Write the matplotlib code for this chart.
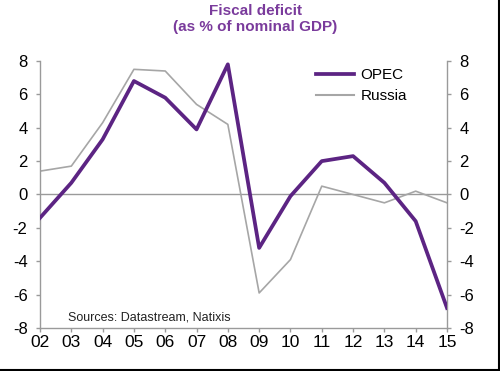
import matplotlib.pyplot as plt
from matplotlib.lines import Line2D

plt.rcParams["font.family"] = ["Liberation Sans", "DejaVu Sans"]

years = ["02", "03", "04", "05", "06", "07", "08", "09", "10", "11", "12", "13", "14", "15"]
opec = [-1.4, 0.7, 3.3, 6.8, 5.8, 3.9, 7.8, -3.2, -0.1, 2.0, 2.3, 0.7, -1.6, -6.8]
russia = [1.4, 1.7, 4.3, 7.5, 7.4, 5.4, 4.2, -5.9, -3.9, 0.5, 0.0, -0.5, 0.2, -0.5]
yticks = [-8, -6, -4, -2, 0, 2, 4, 6, 8]

purple = "#5c2483"
grey = "#a6a6a6"
spine = "#9a9a9a"

fig = plt.figure(figsize=(5, 3.71), dpi=100)
ax = fig.add_axes([0.08, 0.1159, 0.814, 0.7197])
x = list(range(len(years)))

ax.axhline(0, color=spine, lw=1.0, zorder=1)
ax.plot(x, russia, color=grey, lw=1.2, label="Russia", zorder=2)
ax.plot(x, opec, color=purple, lw=2.7, label="OPEC", zorder=3)

ax.set_xlim(0, len(years) - 1)
ax.set_ylim(-8, 8)
ax.set_xticks(x)
ax.set_xticklabels(years)
ax.set_yticks(yticks)
ax.set_yticklabels([str(v) for v in yticks])

ax.spines["top"].set_visible(False)
for side in ["left", "right", "bottom"]:
    ax.spines[side].set_color(spine)
    ax.spines[side].set_linewidth(1.0)
ax.tick_params(axis="both", colors=spine, labelcolor="black",
               length=3, width=1.0, direction="out")
ax.tick_params(axis="x", pad=2, labelsize=12.5)
ax.tick_params(axis="y", pad=6, labelsize=12, left=True, right=True,
               labelleft=True, labelright=True)

handles = [Line2D([], [], color=purple, lw=2.7), Line2D([], [], color=grey, lw=1.5)]
ax.legend(handles, ["OPEC", "Russia"], loc="upper left", bbox_to_anchor=(0.645, 1.025),
          frameon=False, fontsize=11, handlelength=2.45, handletextpad=0.45,
          labelspacing=0.45)

ax.text(0.07, 0.015, "Sources: Datastream, Natixis", transform=ax.transAxes,
        fontsize=9, color="#222222", va="bottom")

fig.text(0.511, 0.988, "Fiscal deficit\n(as % of nominal GDP)", ha="center", va="top",
         fontsize=11, fontweight="bold", color="#7a3b9c", linespacing=1.15)

# dark border along the bottom and right edges
fig.add_artist(Line2D([0, 1], [0.004, 0.004], transform=fig.transFigure, color="black", lw=1.5))
fig.add_artist(Line2D([0.997, 0.997], [0, 1], transform=fig.transFigure, color="black", lw=1.5))

fig.savefig("out.png", dpi=100)
